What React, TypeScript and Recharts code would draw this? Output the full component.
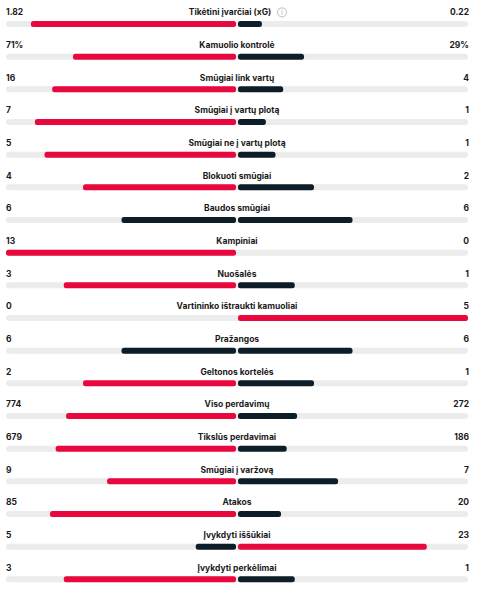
import { BarChart, Bar, XAxis, YAxis, Cell } from 'recharts';

const categories = [
  'Tikėtini įvarčiai (xG)',
  'Kamuolio kontrolė',
  'Smūgiai link vartų',
  'Smūgiai į vartų plotą',
  'Smūgiai ne į vartų plotą',
  'Blokuoti smūgiai',
  'Baudos smūgiai',
  'Kampiniai',
  'Nuošalės',
  'Vartininko ištraukti kamuoliai',
  'Pražangos',
  'Geltonos kortelės',
  'Viso perdavimų',
  'Tikslūs perdavimai',
  'Smūgiai į varžovą',
  'Atakos',
  'Įvykdyti iššūkiai',
  'Įvykdyti perkėlimai',
];
const homeValues = [1.82, 71, 16, 7, 5, 4, 6, 13, 3, 0, 6, 2, 774, 679, 9, 85, 5, 3];
const awayValues = [0.22, 29, 4, 1, 1, 2, 6, 0, 1, 5, 6, 1, 272, 186, 7, 20, 23, 1];
const homeLabels = ['1.82', '71%', '16', '7', '5', '4', '6', '13', '3', '0', '6', '2', '774', '679', '9', '85', '5', '3'];
const awayLabels = ['0.22', '29%', '4', '1', '1', '2', '6', '0', '1', '5', '6', '1', '272', '186', '7', '20', '23', '1'];

const W = 480;
const H = 590;
const MARGIN = { top: 2, right: 12, bottom: 0, left: 6 };
const PLOT_L = MARGIN.left;
const PLOT_R = W - MARGIN.right;
const CENTER = (PLOT_L + PLOT_R) / 2;
const BAR_SHIFT = 6; // bar sits below the row's text
const RED = '#e8083e';
const DARK = '#0e1e28';
const TRACK = '#ececec';
const FONT = 'Inter, "Noto Sans", sans-serif';

const data = categories.map((name, i) => {
  const h = homeValues[i];
  const a = awayValues[i];
  const total = h + a;
  return {
    name,
    idx: i,
    home: total ? -h / total : 0,
    away: total ? a / total : 0,
    homeColor: h > a ? RED : DARK,
    awayColor: a > h ? RED : DARK,
  };
});

function HalfBar(props: any) {
  const { x, y, width, height, fill, side } = props;
  let x0 = Math.min(x, x + width);
  let x1 = Math.max(x, x + width);
  if (side === 'home') x1 -= 1;
  else x0 += 1;
  if (x1 - x0 < 0.5) return null;
  return <rect x={x0} y={y + BAR_SHIFT} width={x1 - x0} height={height} rx={2.5} fill={fill} />;
}

// grey track plus the row's texts (values on the sides, stat name in the middle)
function Track(props: any) {
  const { x, y, width, height, index } = props;
  const base = y + height / 2 - 2.6;
  const hasInfo = index === 0;
  return (
    <g key={`bg-${index}`}>
      <rect x={x} y={y + BAR_SHIFT} width={width} height={height} rx={3} fill={TRACK} />
      <g fontFamily={FONT} fontSize={8.5} fontWeight={700} fill="#1a1a1a">
        <text x={PLOT_L} y={base} textAnchor="start">{homeLabels[index]}</text>
        <text x={hasInfo ? CENTER - 7 : CENTER} y={base} textAnchor="middle">{categories[index]}</text>
        <text x={PLOT_R + 1} y={base} textAnchor="end">{awayLabels[index]}</text>
      </g>
      {hasInfo && (
        <g>
          <circle cx={282} cy={base - 3} r={4.5} fill="none" stroke="#aaa" strokeWidth={0.8} />
          <text x={282} y={base - 0.6} textAnchor="middle" fontFamily={FONT} fontSize={6} fill="#999">i</text>
        </g>
      )}
    </g>
  );
}

export default function App() {
  return (
    <div style={{ position: 'absolute', left: 0, top: 0, width: W, height: H, background: '#fff' }}>
      <BarChart
        width={W}
        height={H}
        data={data}
        layout="vertical"
        margin={MARGIN}
        stackOffset="sign"
        barSize={6}
      >
        <XAxis type="number" domain={[-1, 1]} hide />
        <YAxis type="category" dataKey="name" hide />
        <Bar
          dataKey="home"
          stackId="a"
          isAnimationActive={false}
          background={<Track />}
          shape={(p: any) => <HalfBar {...p} side="home" />}
        >
          {data.map((d) => (
            <Cell key={`h-${d.idx}`} fill={d.homeColor} />
          ))}
        </Bar>
        <Bar
          dataKey="away"
          stackId="a"
          isAnimationActive={false}
          shape={(p: any) => <HalfBar {...p} side="away" />}
        >
          {data.map((d) => (
            <Cell key={`a-${d.idx}`} fill={d.awayColor} />
          ))}
        </Bar>
      </BarChart>
    </div>
  );
}
